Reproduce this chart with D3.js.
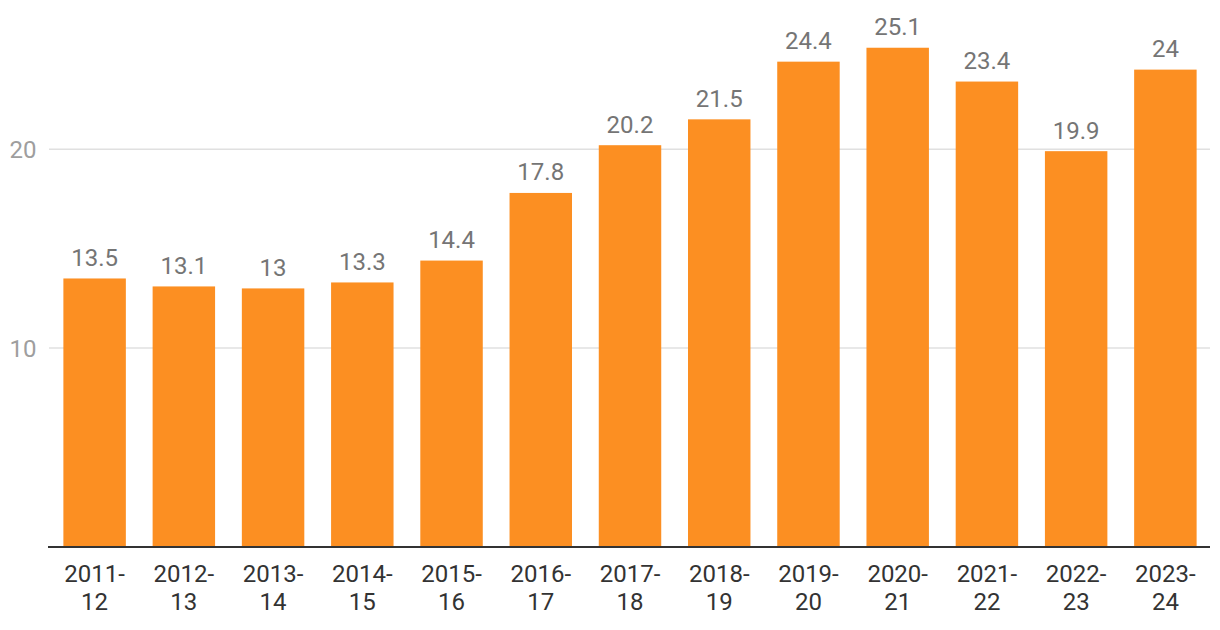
<!DOCTYPE html>
<html><head><meta charset="utf-8">
<script src="https://cdn.jsdelivr.net/npm/d3@7"></script>
<style>body{margin:0;background:#fff;}svg{display:block;font-family:Roboto,sans-serif;}</style>
</head><body>
<svg id="chart" width="1220" height="630"></svg>
<script>
const categories = ["2011-12","2012-13","2013-14","2014-15","2015-16","2016-17","2017-18","2018-19","2019-20","2020-21","2021-22","2022-23","2023-24"];
const values = [13.5,13.1,13,13.3,14.4,17.8,20.2,21.5,24.4,25.1,23.4,19.9,24];
const yTicks = [10,20];

const svg = d3.select("#chart");
const x = d3.scaleBand().domain(categories).range([50,1210]).paddingInner(0.3).paddingOuter(0.15);
const y = d3.scaleLinear().domain([0,27.5]).range([547,0]);

svg.append("g").selectAll("line").data(yTicks).join("line")
  .attr("x1",49).attr("x2",1210).attr("y1",d=>y(d)).attr("y2",d=>y(d))
  .attr("stroke","#e0e0e0").attr("stroke-width",1.5);
svg.append("g").selectAll("text").data(yTicks).join("text")
  .attr("x",23).attr("y",d=>y(d)+9).attr("text-anchor","middle")
  .attr("font-size",24).attr("fill","#9e9e9e").text(d=>d);

svg.append("g").selectAll("rect").data(values).join("rect")
  .attr("x",(d,i)=>x(categories[i])).attr("width",x.bandwidth())
  .attr("y",d=>y(d)).attr("height",d=>y(0)-y(d)).attr("fill","#fc8f22");

svg.append("g").selectAll("text").data(values).join("text")
  .attr("x",(d,i)=>x(categories[i])+x.bandwidth()/2).attr("y",d=>y(d)-12.5)
  .attr("text-anchor","middle").attr("font-size",24).attr("fill","#757575").text(d=>d);

svg.append("line").attr("x1",48).attr("x2",1210).attr("y1",y(0)).attr("y2",y(0))
  .attr("stroke","#333").attr("stroke-width",2);

const xl = svg.append("g").selectAll("text").data(categories).join("text")
  .attr("text-anchor","middle").attr("font-size",24).attr("fill","#333");
xl.each(function(d){
  const parts = d.split("-");
  const t = d3.select(this);
  const cx = x(d)+x.bandwidth()/2;
  t.append("tspan").attr("x",cx).attr("y",582).text(parts[0]+"-");
  t.append("tspan").attr("x",cx).attr("y",610).text(parts[1]);
});
</script>
</body></html>
